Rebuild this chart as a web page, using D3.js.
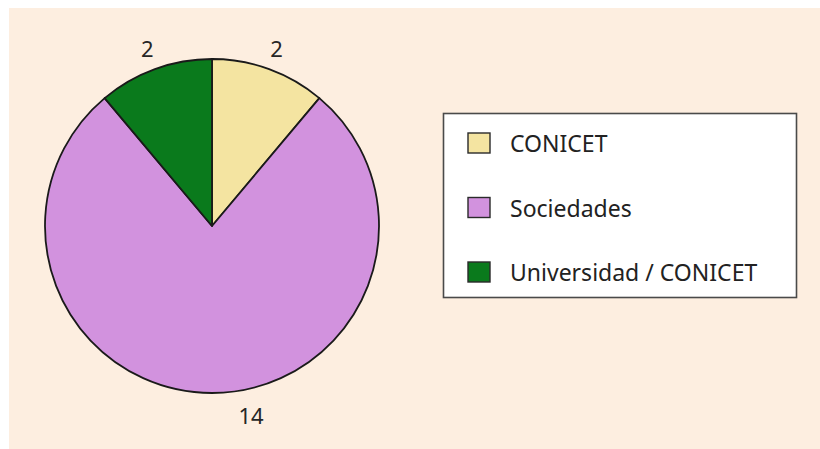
<!DOCTYPE html>
<html>
<head>
<meta charset="utf-8">
<script src="https://cdn.jsdelivr.net/npm/d3@7"></script>
<style>
  html, body { margin: 0; padding: 0; background: #ffffff; }
  svg { display: block; }
  text { font-family: "Noto Sans", "Open Sans", sans-serif; }
</style>
</head>
<body>
<svg id="chart" width="820" height="449"></svg>
<script>
// Data
const categories = ["CONICET", "Sociedades", "Universidad / CONICET"];
const values = [2, 14, 2];
const colors = ["#f4e4a1", "#d292de", "#0a7a1c"];

const svg = d3.select("#chart");
const W = 820, H = 449;

// Panel background
svg.append("rect")
  .attr("x", 9).attr("y", 8)
  .attr("width", W - 9).attr("height", H - 8)
  .attr("fill", "#fdeee0");

// Pie
const cx = 212, cy = 226, R = 167;
const pie = d3.pie().sort(null).value(d => d.value);
const arcs = pie(categories.map((c, i) => ({ name: c, value: values[i], color: colors[i] })));
const arc = d3.arc().innerRadius(0).outerRadius(R);

const g = svg.append("g").attr("transform", `translate(${cx},${cy})`);
g.selectAll("path.slice")
  .data(arcs)
  .join("path")
  .attr("class", "slice")
  .attr("d", arc)
  .attr("fill", d => d.data.color)
  .attr("stroke", "#1a1a1a")
  .attr("stroke-width", 1.8)
  .attr("stroke-linejoin", "round");

// Value labels just outside the rim; the large slice's label sits off-centre
const labelR = R + 22;
const nudge = [0, 39, 0];
g.selectAll("text.value")
  .data(arcs)
  .join("text")
  .attr("class", "value")
  .attr("x", (d, i) => {
    const a = (d.startAngle + d.endAngle) / 2;
    return Math.sin(a) * labelR + nudge[i];
  })
  .attr("y", d => {
    const a = (d.startAngle + d.endAngle) / 2;
    return -Math.cos(a) * labelR;
  })
  .attr("text-anchor", "middle")
  .attr("dominant-baseline", "central")
  .attr("font-size", 22)
  .attr("fill", "#262626")
  .text(d => d.data.value);

// Legend
const lg = svg.append("g");
lg.append("rect")
  .attr("x", 443.5).attr("y", 113.5)
  .attr("width", 353).attr("height", 184)
  .attr("fill", "#ffffff")
  .attr("stroke", "#4a4a4a")
  .attr("stroke-width", 1.6);

const rowY = d3.scalePoint().domain(categories).range([143, 272]);
const rows = lg.selectAll("g.row")
  .data(arcs)
  .join("g")
  .attr("class", "row")
  .attr("transform", d => `translate(0,${rowY(d.data.name)})`);

rows.append("rect")
  .attr("x", 468).attr("y", -10)
  .attr("width", 22).attr("height", 20)
  .attr("fill", d => d.data.color)
  .attr("stroke", "#2a2a2a")
  .attr("stroke-width", 1.4);

rows.append("text")
  .attr("x", 510)
  .attr("y", 0)
  .attr("dominant-baseline", "central")
  .attr("font-size", 23)
  .attr("fill", "#222222")
  .text(d => d.data.name);
</script>
</body>
</html>
